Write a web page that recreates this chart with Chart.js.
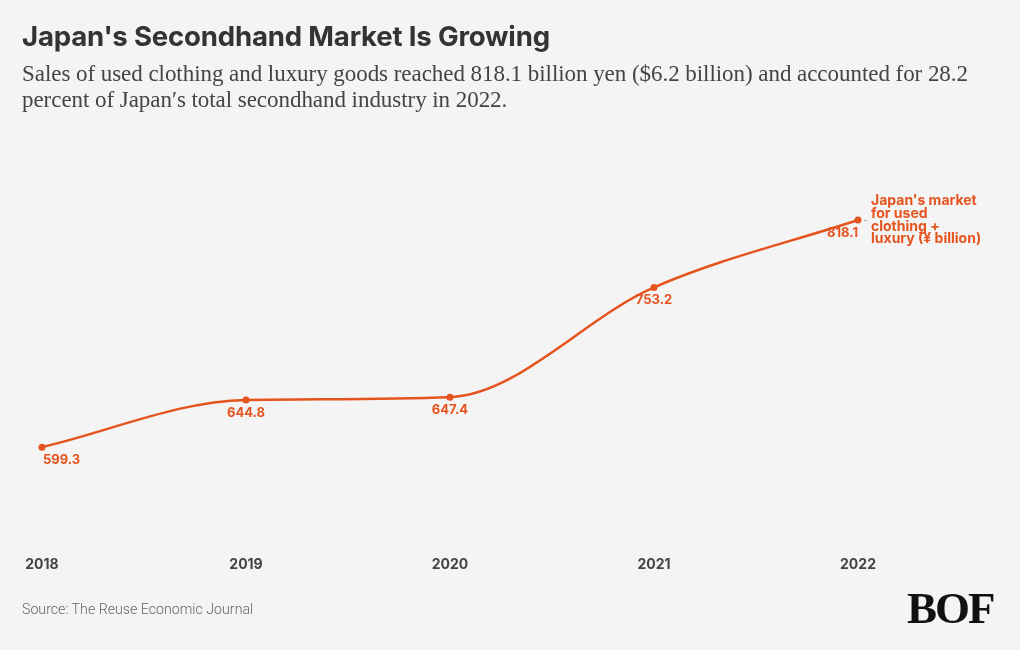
<!DOCTYPE html>
<html>
<head>
<meta charset="utf-8">
<script src="https://cdn.jsdelivr.net/npm/chart.js@4/dist/chart.umd.min.js"></script>
<style>
  body { margin: 0; background: #f4f4f4; }
  #wrap { position: relative; width: 1020px; height: 650px; overflow: hidden; }
  canvas { position: absolute; left: 0; top: 0; }
  .title { position: absolute; left: 22px; top: 19px; font: bold 27.6px "Inter", "Roboto", sans-serif; color: #333; letter-spacing: -0.2px; }
  .sub { position: absolute; left: 22px; top: 61px; width: 980px; font: 23px "Liberation Serif", serif; color: #444; line-height: 26px; letter-spacing: -0.05px; }
  .source { position: absolute; left: 22px; top: 601px; font: 300 14.2px "Roboto", sans-serif; color: #666; }
  .logo { position: absolute; left: 907px; top: 582px; font: bold 45px "Liberation Serif", serif; color: #111; letter-spacing: -2px; }
</style>
</head>
<body>
<div id="wrap">
  <canvas id="chart" width="1020" height="650"></canvas>
  <div class="title">Japan's Secondhand Market Is Growing</div>
  <div class="sub">Sales of used clothing and luxury goods reached 818.1 billion yen ($6.2 billion) and accounted for 28.2<br>percent of Japan′s total secondhand industry in 2022.</div>
  <div class="source">Source: The Reuse Economic Journal</div>
  <div class="logo">BOF</div>
</div>
<script>
const years = ['2018', '2019', '2020', '2021', '2022'];
const sales = [599.3, 644.8, 647.4, 753.2, 818.1];
const seriesLabel = ["Japan's market", 'for used', 'clothing +', 'luxury (¥ billion)'];

const orange = '#e5531e';

// value labels under the points, series name after the last point
const labelPlugin = {
    id: 'labels',
    afterDatasetsDraw(chart) {
        const ctx = chart.ctx;
        const pts = chart.getDatasetMeta(0).data;
        ctx.save();
        ctx.fillStyle = orange;
        ctx.font = 'bold 13px "Inter", "Roboto", sans-serif';
        ctx.textBaseline = 'middle';
        pts.forEach((p, i) => {
            let align = 'center';
            let x = p.x;
            if (i === 0) { align = 'left'; x = p.x + 1; }
            if (i === pts.length - 1) { align = 'right'; x = p.x; }
            ctx.textAlign = align;
            ctx.fillText(sales[i].toFixed(1), x, p.y + 13);
        });
        const last = pts[pts.length - 1];
        ctx.strokeStyle = '#aaa';
        ctx.lineWidth = 1;
        ctx.beginPath();
        ctx.moveTo(last.x + 6, last.y + 0.5);
        ctx.lineTo(last.x + 9, last.y + 0.5);
        ctx.stroke();
        ctx.textAlign = 'left';
        ctx.font = 'bold 14px "Inter", "Roboto", sans-serif';
        seriesLabel.forEach((t, i) => {
            ctx.fillText(t, last.x + 13, last.y - 19 + i * 12.7);
        });
        // faint baseline
        const area = chart.chartArea;
        ctx.fillStyle = '#f8f8f8';
        ctx.fillRect(0, area.bottom - 1, chart.width, 1);
        ctx.restore();
    }
};

new Chart(document.getElementById('chart'), {
    type: 'line',
    data: {
        labels: years,
        datasets: [{
            data: sales,
            borderColor: orange,
            backgroundColor: orange,
            borderWidth: 2.5,
            pointRadius: 3.5,
            pointBorderWidth: 0,
            cubicInterpolationMode: 'monotone'
        }]
    },
    options: {
        responsive: false,
        animation: false,
        layout: { padding: { left: 42, right: 162, top: 135, bottom: 71 } },
        plugins: { legend: { display: false }, tooltip: { enabled: false } },
        scales: {
            x: {
                offset: false,
                grid: { display: false, drawTicks: false },
                border: { display: false },
                ticks: {
                    padding: 6,
                    color: '#444',
                    font: { family: 'Inter, Roboto, sans-serif', size: 14, weight: 'bold' },
                    maxRotation: 0
                }
            },
            y: {
                display: false,
                min: 500,
                max: 900
            }
        }
    },
    plugins: [labelPlugin]
});
</script>
</body>
</html>
